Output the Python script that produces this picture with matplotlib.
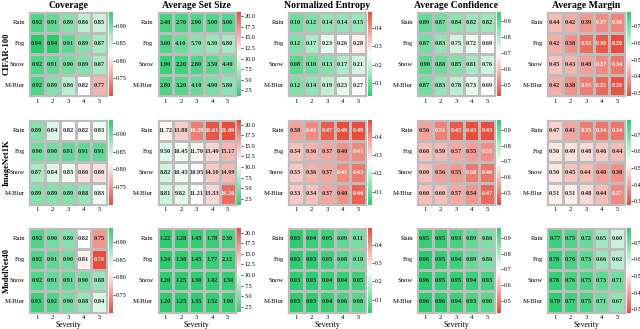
import numpy as np
import matplotlib
matplotlib.use("Agg")
import matplotlib.pyplot as plt
import seaborn as sns
from matplotlib.colors import LinearSegmentedColormap

corruptions = ["Rain", "Fog", "Snow", "M-Blur"]
severities = ["1", "2", "3", "4", "5"]
datasets = ["CIFAR-100", "ImageNet1K", "ModelNet40"]
metrics = ["Coverage", "Average Set Size", "Normalized Entropy",
           "Average Confidence", "Average Margin"]

# CIFAR-100
cifar_coverage = [[0.92, 0.91, 0.89, 0.86, 0.85],
                  [0.94, 0.94, 0.91, 0.89, 0.87],
                  [0.92, 0.91, 0.90, 0.89, 0.87],
                  [0.92, 0.89, 0.86, 0.82, 0.77]]
cifar_setsize = [[2.40, 2.70, 2.90, 3.00, 3.00],
                 [3.00, 4.10, 5.70, 6.30, 6.80],
                 [1.90, 2.20, 2.80, 3.50, 4.40],
                 [2.80, 3.20, 4.10, 4.90, 5.80]]
cifar_entropy = [[0.10, 0.12, 0.14, 0.14, 0.15],
                 [0.12, 0.17, 0.23, 0.26, 0.28],
                 [0.08, 0.10, 0.13, 0.17, 0.21],
                 [0.12, 0.14, 0.19, 0.23, 0.27]]
cifar_confidence = [[0.89, 0.87, 0.84, 0.82, 0.82],
                    [0.87, 0.83, 0.75, 0.72, 0.69],
                    [0.90, 0.88, 0.85, 0.81, 0.76],
                    [0.87, 0.83, 0.78, 0.73, 0.69]]
cifar_margin = [[0.44, 0.42, 0.39, 0.37, 0.36],
                [0.42, 0.38, 0.33, 0.30, 0.28],
                [0.45, 0.43, 0.40, 0.37, 0.34],
                [0.42, 0.38, 0.35, 0.32, 0.29]]

# ImageNet1K
imnet_coverage = [[0.89, 0.84, 0.82, 0.82, 0.83],
                  [0.90, 0.90, 0.91, 0.91, 0.91],
                  [0.87, 0.84, 0.83, 0.80, 0.80],
                  [0.89, 0.89, 0.89, 0.88, 0.83]]
imnet_setsize = [[11.72, 13.88, 18.29, 20.61, 21.09],
                 [9.50, 10.45, 11.79, 13.49, 15.17],
                 [8.82, 10.45, 10.95, 14.10, 14.99],
                 [8.81, 9.82, 11.21, 13.33, 19.26]]
imnet_entropy = [[0.38, 0.41, 0.47, 0.49, 0.49],
                 [0.34, 0.36, 0.37, 0.40, 0.41],
                 [0.33, 0.36, 0.37, 0.41, 0.43],
                 [0.33, 0.34, 0.37, 0.40, 0.46]]
imnet_confidence = [[0.56, 0.51, 0.45, 0.43, 0.43],
                    [0.60, 0.59, 0.57, 0.55, 0.53],
                    [0.60, 0.56, 0.55, 0.50, 0.49],
                    [0.60, 0.60, 0.57, 0.54, 0.47]]
imnet_margin = [[0.47, 0.41, 0.35, 0.34, 0.34],
                [0.50, 0.49, 0.48, 0.46, 0.44],
                [0.50, 0.45, 0.44, 0.40, 0.38],
                [0.51, 0.51, 0.48, 0.44, 0.37]]

# ModelNet40
mnet_coverage = [[0.92, 0.90, 0.89, 0.82, 0.75],
                 [0.92, 0.91, 0.90, 0.81, 0.70],
                 [0.92, 0.91, 0.91, 0.90, 0.88],
                 [0.93, 0.92, 0.90, 0.88, 0.84]]
mnet_setsize = [[1.22, 1.28, 1.45, 1.78, 2.30],
                [1.24, 1.30, 1.45, 1.77, 2.12],
                [1.20, 1.25, 1.30, 1.42, 1.50],
                [1.20, 1.25, 1.35, 1.52, 1.90]]
mnet_entropy = [[0.03, 0.04, 0.05, 0.09, 0.11],
                [0.03, 0.03, 0.05, 0.08, 0.10],
                [0.03, 0.03, 0.04, 0.04, 0.05],
                [0.03, 0.03, 0.04, 0.06, 0.08]]
mnet_confidence = [[0.95, 0.95, 0.93, 0.89, 0.86],
                   [0.96, 0.95, 0.94, 0.89, 0.86],
                   [0.96, 0.95, 0.95, 0.94, 0.93],
                   [0.96, 0.96, 0.94, 0.93, 0.90]]
mnet_margin = [[0.77, 0.75, 0.72, 0.65, 0.60],
               [0.78, 0.76, 0.73, 0.66, 0.62],
               [0.78, 0.76, 0.75, 0.73, 0.71],
               [0.79, 0.77, 0.75, 0.71, 0.67]]

cbar_ticks = [[0.75, 0.80, 0.85, 0.90],
              [2.5, 5.0, 7.5, 10.0, 12.5, 15.0, 17.5, 20.0],
              [0.1, 0.2, 0.3, 0.4],
              [0.5, 0.6, 0.7, 0.8, 0.9],
              [0.3, 0.4, 0.5, 0.6, 0.7]]
cbar_fmt = ["%.2f", "%.1f", "%.1f", "%.1f", "%.1f"]
higher_is_better = [True, False, False, True, True]

grid = [[cifar_coverage, cifar_setsize, cifar_entropy, cifar_confidence, cifar_margin],
        [imnet_coverage, imnet_setsize, imnet_entropy, imnet_confidence, imnet_margin],
        [mnet_coverage, mnet_setsize, mnet_entropy, mnet_confidence, mnet_margin]]

plt.rcParams["font.family"] = ["Liberation Serif", "DejaVu Serif"]

cmap_good = LinearSegmentedColormap.from_list("rwg", ["#e74c3c", "#ffffff", "#2ecc71"])
cmap_bad = cmap_good.reversed()

W, H = 640, 329
fig = plt.figure(figsize=(W / 100, H / 100), dpi=100)

col_x = [29, 157.5, 288, 417, 547]
row_top = [11.5, 120, 228]
hm_w, hm_h = 78, 84.5
cb_gap, cb_w = 1.5, 4

def fr(x, y, w, h):
    return [x / W, 1 - (y + h) / H, w / W, h / H]

for j in range(5):
    arrs = [np.array(grid[i][j]) for i in range(3)]
    vmin = min(a.min() for a in arrs)
    vmax = max(a.max() for a in arrs)
    for i in range(3):
        ax = fig.add_axes(fr(col_x[j], row_top[i], hm_w, hm_h))
        cax = fig.add_axes(fr(col_x[j] + hm_w + cb_gap, row_top[i], cb_w, hm_h))
        sns.heatmap(arrs[i], ax=ax, cbar_ax=cax,
                    cmap=cmap_good if higher_is_better[j] else cmap_bad,
                    vmin=vmin, vmax=vmax, annot=True, fmt=".2f",
                    annot_kws={"fontsize": 4.6, "fontweight": "bold"},
                    linewidths=0.9, linecolor="#bdbdbd",
                    xticklabels=severities, yticklabels=corruptions)
        for sp in ax.spines.values():
            sp.set_visible(True)
            sp.set_color("#bdbdbd")
            sp.set_linewidth(0.9)
        ax.tick_params(axis="y", length=0, labelsize=4.8, pad=3)
        ax.tick_params(axis="x", length=0, labelsize=4.8, pad=2)
        ax.set_yticklabels(corruptions, rotation=0)
        ax.set_xticklabels(severities, rotation=0)
        cax.set_yticks(cbar_ticks[j])
        cax.yaxis.set_major_formatter(matplotlib.ticker.FormatStrFormatter(cbar_fmt[j]))
        cax.tick_params(labelsize=4.4, length=1.5, width=0.5, pad=0.8)
        if i == 0:
            ax.set_title(metrics[j], fontsize=7, fontweight="bold", pad=2.5)
        if i == 2:
            ax.set_xlabel("Severity", fontsize=5.6, labelpad=0.5)
        else:
            ax.set_xlabel("")

for i, name in enumerate(datasets):
    yc = 1 - (row_top[i] + hm_h / 2) / H
    fig.text(7 / W, yc, name, rotation=90, fontsize=6.2, fontweight="bold",
             ha="center", va="center")

fig.savefig("out.png", dpi=100)
